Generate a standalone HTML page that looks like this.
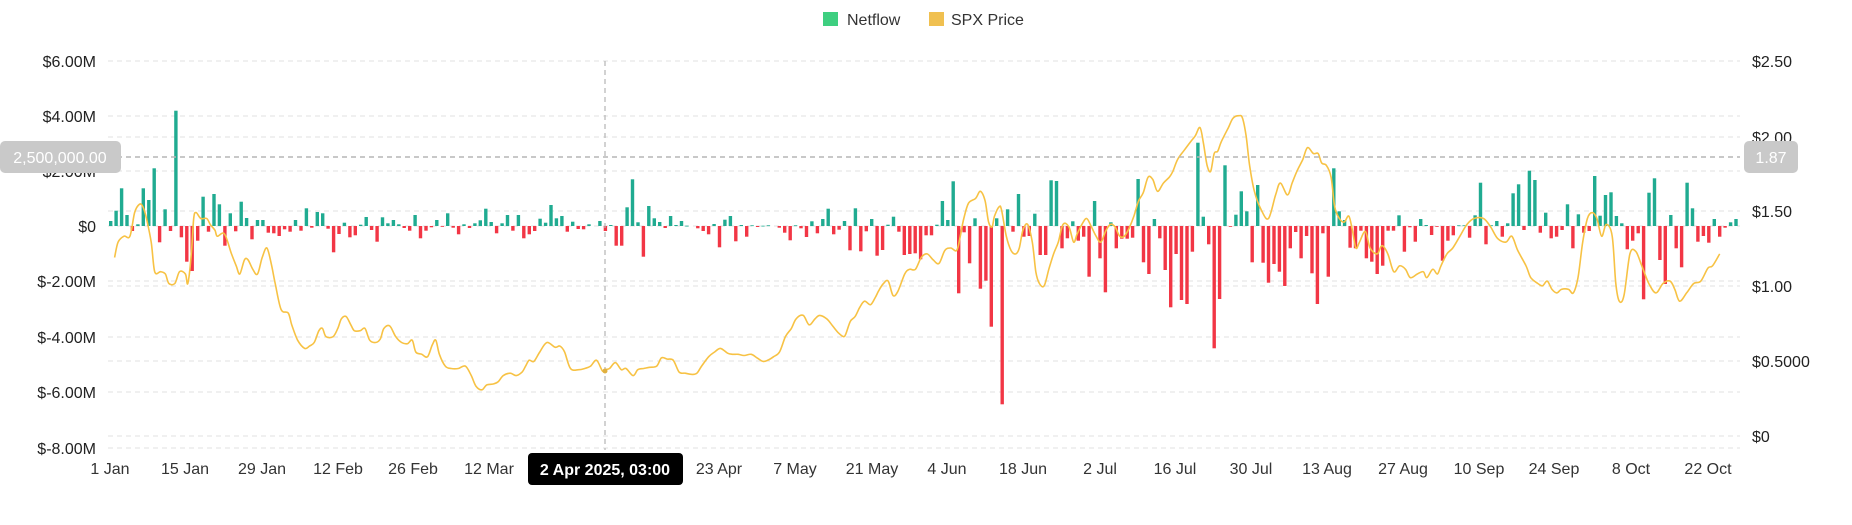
<!DOCTYPE html>
<html><head><meta charset="utf-8"><style>
html,body{margin:0;padding:0;background:#fff;}
svg{display:block;font-family:"Liberation Sans",sans-serif;}
</style></head><body>
<svg id="c" width="1852" height="525" viewBox="0 0 1852 525" xmlns="http://www.w3.org/2000/svg">
<g id="grid"></g>
<g id="bars"></g>
<path id="line" fill="none" stroke="#f7c244" stroke-width="1.6"/>
<line x1="605" y1="61" x2="605" y2="450" stroke="#b5b5b5" stroke-dasharray="5,4" stroke-width="1.2"/>
<line x1="108" y1="157" x2="1740" y2="157" stroke="#b5b5b5" stroke-dasharray="5,4" stroke-width="1.5"/>
<circle cx="605" cy="371" r="2.5" fill="#e0b040"/>
<g font-size="16" fill="#222" text-anchor="end">
<text x="96" y="67">$6.00M</text><text x="96" y="122">$4.00M</text><text x="96" y="177">$2.00M</text>
<text x="96" y="232">$0</text><text x="96" y="287">$-2.00M</text><text x="96" y="343">$-4.00M</text>
<text x="96" y="398">$-6.00M</text><text x="96" y="454">$-8.00M</text>
</g>
<g font-size="16" fill="#222">
<text x="1752" y="67">$2.50</text><text x="1752" y="143">$2.00</text><text x="1752" y="217">$1.50</text>
<text x="1752" y="292">$1.00</text><text x="1752" y="367">$0.5000</text><text x="1752" y="442">$0</text>
</g>
<rect x="0" y="141" width="121" height="32" rx="5" fill="#c9c9c9"/>
<text x="60" y="163" font-size="16" fill="#fff" text-anchor="middle">2,500,000.00</text>
<rect x="1744" y="141" width="54" height="32" rx="5" fill="#c9c9c9"/>
<text x="1771" y="163" font-size="16" fill="#fff" text-anchor="middle">1.87</text>
<g font-size="16" fill="#333" text-anchor="middle">
<text x="110" y="474">1 Jan</text><text x="185" y="474">15 Jan</text><text x="262" y="474">29 Jan</text>
<text x="338" y="474">12 Feb</text><text x="413" y="474">26 Feb</text><text x="489" y="474">12 Mar</text>
<text x="719" y="474">23 Apr</text><text x="795" y="474">7 May</text><text x="872" y="474">21 May</text>
<text x="947" y="474">4 Jun</text><text x="1023" y="474">18 Jun</text><text x="1100" y="474">2 Jul</text>
<text x="1175" y="474">16 Jul</text><text x="1251" y="474">30 Jul</text><text x="1327" y="474">13 Aug</text>
<text x="1403" y="474">27 Aug</text><text x="1479" y="474">10 Sep</text><text x="1554" y="474">24 Sep</text>
<text x="1631" y="474">8 Oct</text><text x="1708" y="474">22 Oct</text>
</g>
<rect x="528" y="453" width="155" height="32" rx="4" fill="#000"/>
<text x="605" y="475" font-size="16" font-weight="bold" fill="#fff" text-anchor="middle">2 Apr 2025, 03:00</text>
<rect x="823" y="12" width="15" height="14" fill="#3ecf80"/>
<text x="847" y="25" font-size="16" fill="#333">Netflow</text>
<rect x="929" y="12" width="15" height="14" fill="#f0c050"/>
<text x="951" y="25" font-size="16" fill="#333">SPX Price</text>
</svg>
<script>
(function(){
var NS="http://www.w3.org/2000/svg";
var g=document.getElementById('grid');
[61,116,171,226,281,337,392,448,137,211,286,361,436].forEach(function(y){
 var l=document.createElementNS(NS,'line');
 l.setAttribute('x1',108);l.setAttribute('x2',1740);l.setAttribute('y1',y);l.setAttribute('y2',y);
 l.setAttribute('stroke','#e8e8e8');l.setAttribute('stroke-dasharray','5,4');l.setAttribute('stroke-width','1.2');
 g.appendChild(l);
});
var h=[15,46,113,33,-15,5,113,78,173,-49,50,-15,346,-34,-107,-135,-44,88,-17,96,65,-59,38,-16,73,24,-40,18,18,-20,-22,-30,-10,-17,18,-14,53,-5,42,38,-8,-79,-24,10,-34,-28,4,27,-12,-47,26,8,18,5,-6,-14,33,-37,-14,-4,18,-2,38,-5,-25,5,-6,8,17,52,12,-22,8,33,-14,33,-37,-25,-15,22,10,63,23,30,-17,13,-9,-10,5,0,15,-15,3,-59,
-59,56,140,11,-92,60,23,12,-6,30,3,15,1,0,-7,-15,-25,6,-64,19,30,-46,3,-32,2,-3,1,2,0,-5,-20,-43,2,-7,-33,14,-22,21,52,-25,-11,15,-73,53,-76,-16,21,-89,-72,4,28,-17,-87,-84,-82,-100,-28,-28,4,75,18,134,-202,-19,-112,23,-188,-164,-302,23,-535,50,-17,96,-32,-30,37,-87,-87,137,135,-67,-37,14,-44,-32,-152,75,-97,-199,11,-67,-38,-38,-35,141,-109,-144,21,-37,-132,-244,-84,-222,-234,-77,250,28,-55,-367,-219,182,-2,34,104,44,-109,123,
-110,-170,-114,-137,-180,-67,-18,-97,-30,-142,-234,-22,-152,173,44,18,-65,-67,-14,-97,-107,-144,-119,-14,-14,32,-77,-4,-47,21,3,-27,-2,-104,-44,-28,2,2,-35,32,130,-55,2,15,-32,8,98,125,-12,166,138,-20,40,-37,-32,-12,65,-67,35,-20,-15,150,31,93,101,30,8,-70,-44,-22,-220,100,143,-102,-174,33,-67,-124,130,53,-47,-30,-50,21,-32,-5,11,21];
var bg=document.getElementById('bars');
var step=(1736-110.7)/(h.length-1);
h.forEach(function(v,i){
 if(Math.abs(v)<1) return;
 var x=110.7+i*step, hh=v/3;
 var r=document.createElementNS(NS,'rect');
 r.setAttribute('x',(x-1.7).toFixed(1));r.setAttribute('width','3.4');
 r.setAttribute('y',(hh>0?226-hh:226).toFixed(1));r.setAttribute('height',Math.max(Math.abs(hh),0.8).toFixed(1));
 r.setAttribute('fill',v>0?'#20ab91':'#f23645');
 bg.appendChild(r);
});
var p=[97,218,100,205,105,200,110,200,114,180,118,173,121,175,124,185,128,205,131,230,136,230,140,232,143,240,148,240,152,230,157,232,159,240,162,215,164,185,166,180,170,185,175,185,178,190,182,195,184,200,190,198,196,215,200,225,203,232,207,220,210,220,214,228,218,232,222,218,226,210,230,225,233,240,238,262,244,265,247,275,252,288,258,295,262,293,266,290,270,280,273,278,276,285,282,285,286,278,289,270,293,268,297,275,300,280,305,280,309,278,313,288,318,290,322,287,325,278,330,276,335,285,340,290,345,291,349,288,352,298,357,300,362,302,366,292,369,288,372,300,377,310,382,312,388,312,394,310,399,318,403,327,408,330,412,326,418,325,422,323,426,318,432,316,437,318,442,315,445,310,448,305,452,306,457,298,463,290,470,294,474,293,478,298,483,312,490,313,495,312,500,310,505,305,510,314,512,313,516,312,521,307,526,313,530,312,536,318,540,313,545,312,550,311,556,310,560,303,565,304,570,305,575,315,580,316,586,317,590,316,594,310,600,302,605,298,610,295,616,299,620,300,625,300,630,301,636,300,641,303,646,306,650,305,655,302,660,298,665,285,670,278,674,270,680,267,685,275,690,270,694,267,700,270,705,276,710,282,714,285,716,283,720,272,724,268,728,260,732,255,737,258,741,252,744,246,748,240,752,238,756,250,760,247,766,232,770,228,775,228,780,218,785,215,790,220,795,223,800,212,805,210,810,212,813,200,816,185,820,172,826,168,830,162,834,170,837,188,840,192,842,183,846,175,848,178,852,200,856,212,860,215,863,210,866,195,870,190,874,205,877,230,880,240,884,242,888,228,892,215,896,205,900,190,905,192,909,205,912,198,916,190,920,185,924,192,928,200,932,205,936,196,940,190,944,192,948,200,952,200,956,193,960,183,964,170,968,163,972,150,976,152,980,162,985,155,990,150,993,145,997,135,1002,128,1008,120,1012,115,1016,108,1019,122,1022,140,1025,145,1028,130,1031,128,1034,120,1040,108,1044,100,1049,98,1052,100,1055,115,1058,140,1062,162,1068,178,1074,185,1080,165,1084,155,1090,165,1094,155,1098,145,1103,135,1107,125,1112,130,1116,130,1119,138,1123,140,1127,150,1130,175,1134,185,1138,188,1142,183,1145,195,1148,210,1151,205,1156,196,1160,210,1166,215,1170,208,1175,215,1180,230,1185,225,1190,228,1194,235,1200,232,1205,230,1208,235,1213,228,1217,232,1220,225,1225,215,1230,210,1236,200,1242,190,1248,185,1256,185,1262,192,1268,202,1275,205,1280,200,1285,212,1292,225,1296,235,1302,240,1306,242,1310,238,1314,245,1318,248,1322,245,1328,245,1332,248,1336,235,1340,205,1344,185,1348,180,1352,185,1356,200,1360,190,1365,200,1368,240,1371,255,1375,250,1380,215,1385,213,1390,225,1396,240,1402,248,1408,240,1414,238,1418,245,1422,255,1428,248,1434,240,1440,238,1446,227,1450,225,1456,215];
var k=1852/1568,P=[];
for(var i=0;i<p.length;i+=2)P.push([p[i]*k,p[i+1]*k]);
var d='M'+P[0][0].toFixed(1)+','+P[0][1].toFixed(1);
for(var i=0;i<P.length-1;i++){
 var p0=P[i>0?i-1:0],p1=P[i],p2=P[i+1],p3=P[i+2<P.length?i+2:i+1];
 var c1x=p1[0]+(p2[0]-p0[0])/6,c1y=p1[1]+(p2[1]-p0[1])/6,c2x=p2[0]-(p3[0]-p1[0])/6,c2y=p2[1]-(p3[1]-p1[1])/6;
 d+='C'+c1x.toFixed(1)+','+c1y.toFixed(1)+' '+c2x.toFixed(1)+','+c2y.toFixed(1)+' '+p2[0].toFixed(1)+','+p2[1].toFixed(1);
}
document.getElementById('line').setAttribute('d',d);
})();
</script>
</body></html>
